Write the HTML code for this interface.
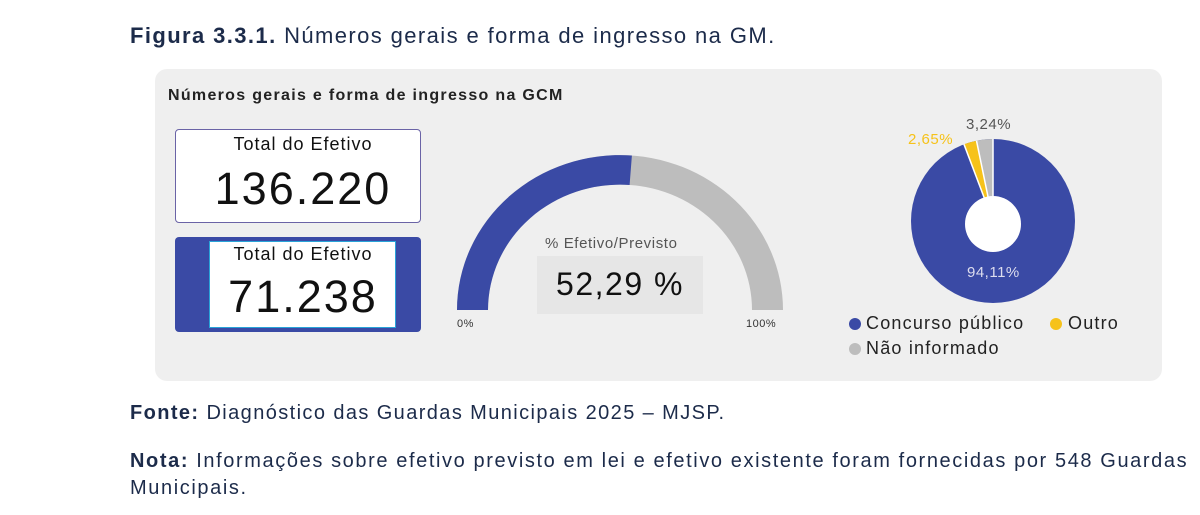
<!DOCTYPE html>
<html><head><meta charset="utf-8"><style>
body{margin:0;width:1200px;height:515px;background:#fff;position:relative;overflow:hidden;font-family:"Liberation Sans",sans-serif;color:#1c2b4a}
.t{position:absolute;white-space:nowrap}
</style></head><body>
<div class="t" style="left:130px;top:23px;font-size:22px;letter-spacing:1.4px"><b>Figura 3.3.1.</b> Números gerais e forma de ingresso na GM.</div>
<div style="position:absolute;left:155px;top:69px;width:1007px;height:312px;background:#efefef;border-radius:12px"></div>
<div class="t" style="left:168px;top:87px;font-size:16px;letter-spacing:1.3px;font-weight:bold;color:#222">Números gerais e forma de ingresso na GCM</div>
<div style="position:absolute;left:175px;top:129px;width:244px;height:92px;background:#fff;border:1.5px solid #6a63a6;border-radius:4px"></div>
<div class="t" style="left:205px;top:134px;width:196px;text-align:center;font-size:18px;letter-spacing:1px;color:#111">Total do Efetivo</div>
<div class="t" style="left:200px;top:163px;width:206px;text-align:center;font-size:45px;letter-spacing:2px;color:#111">136.220</div>
<div style="position:absolute;left:175px;top:237px;width:246px;height:95px;background:#3a4aa5;border-radius:4px"></div>
<div style="position:absolute;left:209px;top:241px;width:185px;height:85px;background:#fff;border:1.5px solid #29a3d8"></div>
<div class="t" style="left:205px;top:244px;width:196px;text-align:center;font-size:18px;letter-spacing:1px;color:#111">Total do Efetivo</div>
<div class="t" style="left:200px;top:271px;width:206px;text-align:center;font-size:45px;letter-spacing:2px;color:#111">71.238</div>
<svg style="position:absolute;left:0;top:0" width="1200" height="515">
<g transform="translate(620,310) scale(1,0.95)">
<path d="M-163 0 A163 163 0 0 1 163 0 L132 0 A132 132 0 0 0 -132 0 Z" fill="#bdbdbd"/>
<path d="M-163 0 A163 163 0 0 1 11.9 -162.6 L9.6 -131.6 A132 132 0 0 0 -132 0 Z" fill="#3a4aa5"/>
</g>
<rect x="537" y="256" width="166" height="58" fill="#e6e6e6"/>
<circle cx="993" cy="221" r="82" fill="#3a4aa5"/>
<path d="M993 221 L993 139 A82 82 0 0 0 976.5 140.7 Z" fill="#bdbdbd"/>
<path d="M993 221 L976.5 140.7 A82 82 0 0 0 964 144.3 Z" fill="#f6c21a"/>
<path d="M993 221 L976.5 140.7" stroke="#fff" stroke-width="1.5"/>
<path d="M993 221 L964 144.3" stroke="#fff" stroke-width="1.5"/>
<path d="M993 221 L993 139" stroke="#fff" stroke-width="1.5"/>
<circle cx="993" cy="224" r="28" fill="#fff"/>
<circle cx="855" cy="324" r="6" fill="#3a4aa5"/>
<circle cx="1056" cy="324" r="6" fill="#f6c21a"/>
<circle cx="855" cy="349" r="6" fill="#bdbdbd"/>
</svg>
<div class="t" style="left:457px;top:318px;font-size:11px;letter-spacing:0.5px;color:#333">0%</div>
<div class="t" style="left:746px;top:318px;font-size:11px;letter-spacing:0.5px;color:#333">100%</div>
<div class="t" style="left:545px;top:235px;font-size:15px;letter-spacing:0.6px;color:#555">% Efetivo/Previsto</div>
<div class="t" style="left:537px;top:266px;width:166px;text-align:center;font-size:32px;letter-spacing:1.5px;color:#111">52,29 %</div>
<div class="t" style="left:966px;top:116px;font-size:15px;letter-spacing:0.5px;color:#555">3,24%</div>
<div class="t" style="left:908px;top:131px;font-size:15px;letter-spacing:0.5px;color:#f6c21a">2,65%</div>
<div class="t" style="left:967px;top:264px;font-size:15px;letter-spacing:0.5px;color:#dde">94,11%</div>
<div class="t" style="left:866px;top:313px;font-size:18px;letter-spacing:1.2px;color:#222">Concurso público</div>
<div class="t" style="left:1068px;top:313px;font-size:18px;letter-spacing:1.2px;color:#222">Outro</div>
<div class="t" style="left:866px;top:338px;font-size:18px;letter-spacing:1.2px;color:#222">Não informado</div>
<div class="t" style="left:130px;top:402px;font-size:20px;letter-spacing:1.4px"><b>Fonte:</b> Diagnóstico das Guardas Municipais 2025 – MJSP.</div>
<div class="t" style="left:130px;top:450px;font-size:20px;letter-spacing:1.6px"><b>Nota:</b> Informações sobre efetivo previsto em lei e efetivo existente foram fornecidas por 548 Guardas</div>
<div class="t" style="left:130px;top:477px;font-size:20px;letter-spacing:1.6px">Municipais.</div>
</body></html>
